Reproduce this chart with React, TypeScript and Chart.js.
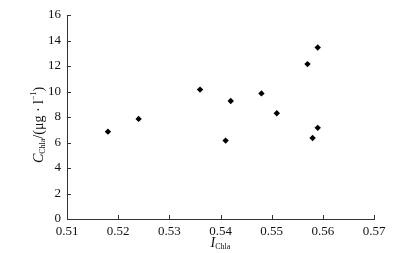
import React, { useEffect, useRef } from "react";
import { Chart, registerables } from "chart.js";

Chart.register(...registerables);

const xValues = [0.518, 0.524, 0.536, 0.542, 0.541, 0.548, 0.551, 0.557, 0.559, 0.559, 0.558];
const yValues = [6.85, 7.85, 10.15, 9.25, 6.15, 9.85, 8.3, 12.15, 13.45, 7.15, 6.35];
const xTicks = [0.51, 0.52, 0.53, 0.54, 0.55, 0.56, 0.57];
const yTicks = [0, 2, 4, 6, 8, 10, 12, 14, 16];

const FONT = "'Liberation Serif', 'DejaVu Serif', serif";

type Seg = { t: string; size: number; italic?: boolean; dy?: number };

function drawRun(ctx: CanvasRenderingContext2D, segs: Seg[], cx: number, cy: number, rot: number) {
  ctx.save();
  ctx.translate(cx, cy);
  ctx.rotate(rot);
  ctx.fillStyle = "#111";
  ctx.textBaseline = "middle";
  ctx.textAlign = "left";
  let total = 0;
  for (const s of segs) {
    ctx.font = `${s.italic ? "italic " : ""}${s.size}px ${FONT}`;
    total += ctx.measureText(s.t).width;
  }
  let x = -total / 2;
  for (const s of segs) {
    ctx.font = `${s.italic ? "italic " : ""}${s.size}px ${FONT}`;
    ctx.fillText(s.t, x, s.dy || 0);
    x += ctx.measureText(s.t).width;
  }
  ctx.restore();
}

const decorPlugin = {
  id: "decor",
  afterDraw(chart: any) {
    const ctx = chart.ctx as CanvasRenderingContext2D;
    const { left, right, top, bottom } = chart.chartArea;
    const xs = chart.scales.x;
    const ys = chart.scales.y;
    ctx.save();
    ctx.strokeStyle = "#333";
    ctx.lineWidth = 1;
    ctx.beginPath();
    for (const v of xTicks) {
      const px = Math.round(xs.getPixelForValue(v)) + 0.5;
      ctx.moveTo(px, bottom);
      ctx.lineTo(px, bottom - 4);
    }
    for (const v of yTicks) {
      const py = Math.round(ys.getPixelForValue(v)) + 0.5;
      ctx.moveTo(left, py);
      ctx.lineTo(left + 4, py);
    }
    ctx.stroke();
    ctx.restore();

    drawRun(
      ctx,
      [
        { t: "I", size: 14, italic: true },
        { t: "Chla", size: 8, dy: 4 },
      ],
      (left + right) / 2,
      243,
      0
    );
    drawRun(
      ctx,
      [
        { t: "C", size: 14, italic: true },
        { t: "Chla", size: 8, dy: 4 },
        { t: "/(μg · l", size: 14 },
        { t: "−1", size: 8, dy: -5 },
        { t: ")", size: 14 },
      ],
      39,
      (top + bottom) / 2 + 8,
      -Math.PI / 2
    );
  },
};

export default function App() {
  const ref = useRef<HTMLCanvasElement>(null);
  useEffect(() => {
    document.body.style.margin = "0";
    const chart = new Chart(ref.current!, {
      type: "scatter",
      data: {
        datasets: [
          {
            data: xValues.map((x, i) => ({ x, y: yValues[i] })),
            pointStyle: "rectRot",
            radius: 3.2,
            backgroundColor: "#000",
            borderColor: "#000",
            borderWidth: 0,
          },
        ],
      },
      options: {
        responsive: false,
        animation: false,
        layout: { padding: { top: 15, right: 38, left: 0, bottom: 0 } },
        plugins: { legend: { display: false }, tooltip: { enabled: false } },
        scales: {
          x: {
            type: "linear",
            min: 0.51,
            max: 0.57,
            afterBuildTicks: (s: any) => {
              s.ticks = xTicks.map((v) => ({ value: v }));
            },
            afterFit: (s: any) => {
              s.height = 34;
            },
            ticks: {
              padding: 5,
              color: "#111",
              font: { family: FONT, size: 13 },
              callback: (v: any) => Number(v).toFixed(2),
            },
            grid: { drawOnChartArea: false, drawTicks: false },
            border: { display: true, color: "#333", width: 1 },
          },
          y: {
            type: "linear",
            min: 0,
            max: 16,
            afterBuildTicks: (s: any) => {
              s.ticks = yTicks.map((v) => ({ value: v }));
            },
            afterFit: (s: any) => {
              s.width = 67;
            },
            ticks: {
              padding: 6,
              color: "#111",
              font: { family: FONT, size: 13 },
              callback: (v: any) => String(v),
            },
            grid: { drawOnChartArea: false, drawTicks: false },
            border: { display: true, color: "#333", width: 1 },
          },
        },
      },
      plugins: [decorPlugin],
    });
    return () => chart.destroy();
  }, []);
  return (
    <div style={{ width: 412, height: 253, background: "#fff" }}>
      <canvas ref={ref} width={412} height={253} style={{ display: "block" }} />
    </div>
  );
}
